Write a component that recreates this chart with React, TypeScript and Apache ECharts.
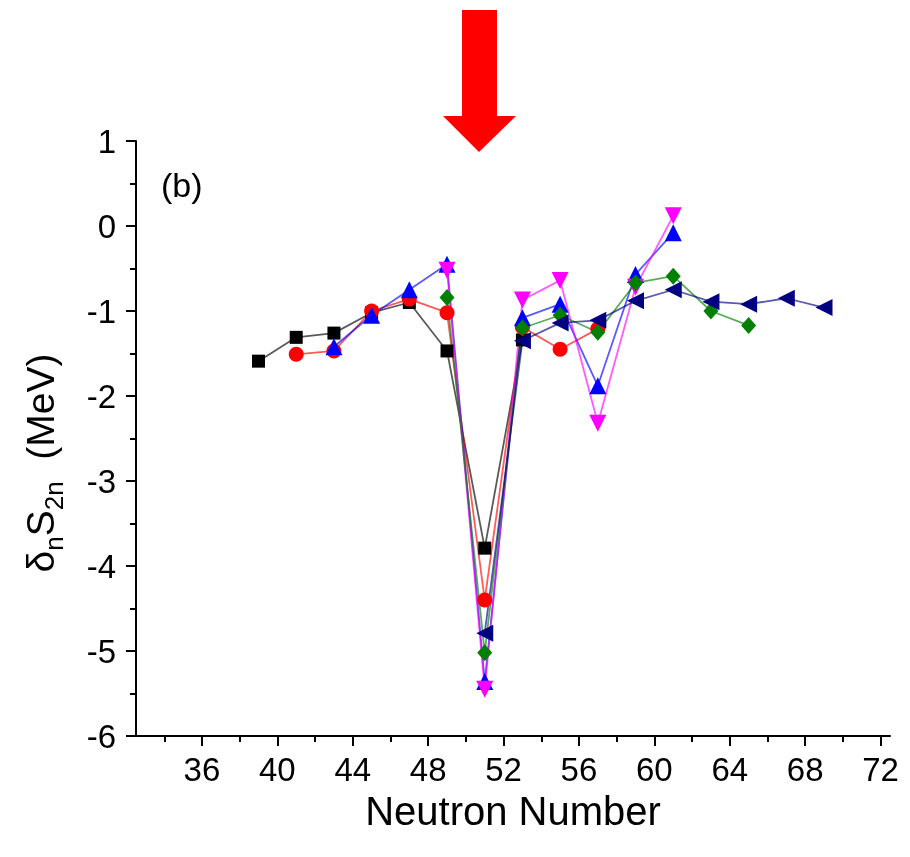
import React, { useEffect, useRef } from "react";
import * as echarts from "echarts";

const FONT = '"Liberation Sans", Arial, sans-serif';

const xMajorTicks = [36, 40, 44, 48, 52, 56, 60, 64, 68, 72];
const xMinorTicks = [34, 38, 42, 46, 50, 54, 58, 62, 66, 70];

const blackN = [39, 41, 43, 45, 47, 49, 51, 53];
const blackV = [-1.59, -1.31, -1.26, -1.02, -0.9, -1.47, -3.79, -1.34];

const redN = [41, 43, 45, 47, 49, 51, 53, 55, 57];
const redV = [-1.51, -1.47, -1.0, -0.86, -1.02, -4.4, -1.19, -1.45, -1.21];

const blueN = [43, 45, 47, 49, 51, 53, 55, 57, 59, 61];
const blueV = [-1.42, -1.05, -0.75, -0.45, -5.36, -1.08, -0.92, -1.88, -0.57, -0.08];

const magentaN = [49, 51, 53, 55, 57, 59, 61];
const magentaV = [-0.52, -5.45, -0.87, -0.64, -2.32, -0.72, 0.12];

const greenN = [49, 51, 53, 55, 57, 59, 61, 63, 65];
const greenV = [-0.84, -5.02, -1.2, -1.05, -1.25, -0.67, -0.59, -1.0, -1.17];

const navyN = [51, 53, 55, 57, 59, 61, 63, 65, 67, 69];
const navyV = [-4.79, -1.35, -1.14, -1.11, -0.88, -0.75, -0.89, -0.92, -0.85, -0.96];

const zip = (n: number[], v: number[]) => n.map((x, i) => [x, v[i]]);

function measure(text: string, size: number): number {
  const c = document.createElement("canvas").getContext("2d");
  if (!c) return text.length * size * 0.55;
  c.font = `${size}px ${FONT}`;
  return c.measureText(text).width;
}

export default function App() {
  const ref = useRef<HTMLDivElement>(null);
  useEffect(() => {
    if (!ref.current) return;
    const chart = echarts.init(ref.current, null, { renderer: "svg" });

    const mk = (name: string, n: number[], v: number[], color: string, symbol: string, size: any, rotate = 0) => ({
      name,
      type: "line",
      data: zip(n, v),
      symbol,
      symbolSize: size,
      symbolRotate: rotate,
      showAllSymbol: true,
      lineStyle: { color, width: 1.8, opacity: 0.65 },
      itemStyle: { color, opacity: 1 },
      emphasis: { disabled: true },
    });

    const big = 39, small = 26;
    const pieces = [
      { t: "δ", s: big, dy: 0 },
      { t: "n", s: small, dy: 14 },
      { t: "S", s: big, dy: 0 },
      { t: "2n", s: small, dy: 14 },
      { t: "  (MeV)", s: big, dy: 0 },
    ];
    const widths = pieces.map((p) => measure(p.t, p.s));
    const total = widths.reduce((a, b) => a + b, 0);
    let cx = -total / 2;
    const titleChildren = pieces.map((p, i) => {
      const el = {
        type: "text",
        x: cx,
        y: p.dy,
        style: {
          text: p.t,
          fill: "#000",
          font: `${p.s}px ${FONT}`,
          align: "left",
          verticalAlign: "middle",
          textAlign: "left",
          textVerticalAlign: "middle",
        },
      };
      cx += widths[i];
      return el;
    });

    chart.setOption({
      animation: false,
      grid: { left: 136, top: 141, right: 20, bottom: 121, containLabel: false },
      xAxis: [
        {
          type: "value",
          min: 32.5,
          max: 72.5,
          name: "Neutron Number",
          nameLocation: "middle",
          nameGap: 48,
          nameTextStyle: { fontFamily: FONT, fontSize: 40, color: "#000" },
          axisLine: { show: true, onZero: false, lineStyle: { color: "#000", width: 2 } },
          axisTick: { show: true, inside: false, length: 10, lineStyle: { color: "#000", width: 2 }, customValues: xMajorTicks },
          axisLabel: { show: true, customValues: xMajorTicks, margin: 17, fontFamily: FONT, fontSize: 33, color: "#000" },
          splitLine: { show: false },
        },
        {
          type: "value",
          min: 32.5,
          max: 72.5,
          position: "bottom",
          axisLine: { show: false, onZero: false },
          axisTick: { show: true, inside: false, length: 6, lineStyle: { color: "#000", width: 2 }, customValues: xMinorTicks },
          axisLabel: { show: false },
          splitLine: { show: false },
        },
      ],
      yAxis: {
        type: "value",
        min: -6,
        max: 1,
        interval: 1,
        axisLine: { show: true, onZero: false, lineStyle: { color: "#000", width: 2 } },
        axisTick: { show: true, inside: false, length: 10, lineStyle: { color: "#000", width: 2 } },
        minorTick: { show: true, splitNumber: 2, length: 6, lineStyle: { color: "#000", width: 2 } },
        axisLabel: { margin: 20, fontFamily: FONT, fontSize: 33, color: "#000" },
        splitLine: { show: false },
      },
      graphic: [
        {
          type: "polygon",
          shape: {
            points: [
              [462, 10],
              [497, 10],
              [497, 116],
              [516, 116],
              [479, 152],
              [443, 116],
              [462, 116],
            ],
          },
          style: { fill: "#ff0000" },
        },
        {
          type: "text",
          x: 161,
          y: 185,
          style: {
            text: "(b)",
            fill: "#000",
            font: `34px ${FONT}`,
            align: "left",
            verticalAlign: "middle",
            textAlign: "left",
            textVerticalAlign: "middle",
          },
        },
        {
          type: "group",
          x: 40,
          y: 463,
          rotation: Math.PI / 2,
          children: titleChildren,
        },
      ],
      series: [
        mk("black", blackN, blackV, "#000000", "rect", 13),
        mk("red", redN, redV, "#ff0000", "circle", 15),
        mk("blue", blueN, blueV, "#0000ff", "triangle", 17),
        mk("magenta", magentaN, magentaV, "#ff00ff", "triangle", 17, 180),
        mk("green", greenN, greenV, "#008000", "diamond", [15, 17]),
        mk("navy", navyN, navyV, "#000080", "triangle", 17, 90),
      ],
    });
    return () => chart.dispose();
  }, []);
  return <div ref={ref} style={{ position: "fixed", left: 0, top: 0, width: 910, height: 857 }} />;
}
